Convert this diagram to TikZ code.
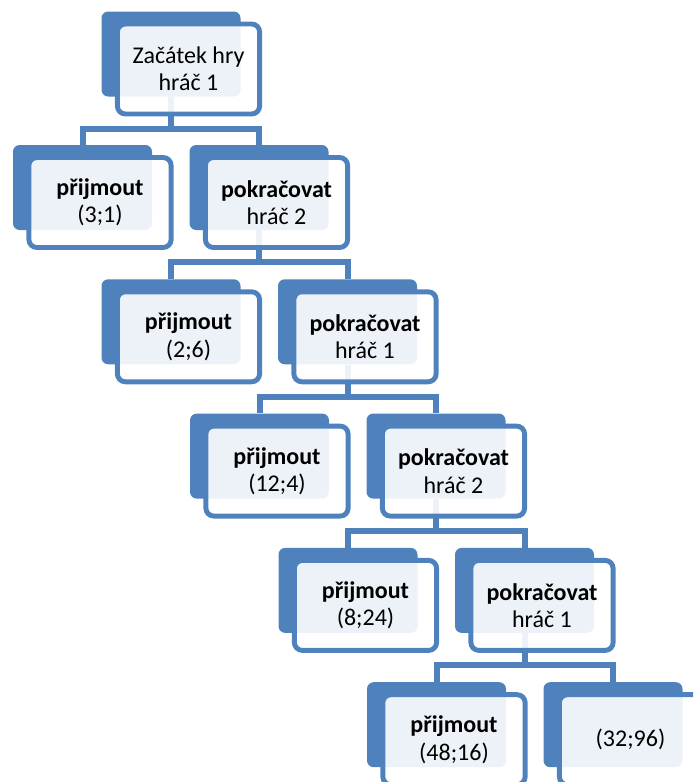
\documentclass[tikz,border=0pt]{standalone}
\usepackage{fontspec}
\setmainfont{Carlito}
\definecolor{gameblue}{HTML}{4F81BD}
\tikzset{
  back/.style={fill=gameblue, rounded corners=5pt, minimum width=104.25pt,
    minimum height=63.75pt, inner sep=0pt},
  front/.style={draw=gameblue, line width=3.7pt, fill=white, fill opacity=0.9,
    text opacity=1, rounded corners=6pt, minimum width=106.7pt,
    minimum height=67.5pt, inner sep=0pt, align=center,
    font=\fontsize{18}{20.5}\selectfont},
  conn/.style={draw=gameblue, line width=4.5pt},
}
\begin{document}
\begin{tikzpicture}[x=0.75pt,y=-0.75pt]
    \clip (0,0) rectangle (693,782);

    % Back boxes
    \node[back] (root) at (171,54) {};
    \foreach \k in {1,...,5} {
        \node[back] (L\k) at ({82.5+88.5*(\k-1)},{187.5+134.3*(\k-1)}) {};
        \node[back] (R\k) at ({259+88.5*(\k-1)},{187.5+134.3*(\k-1)}) {};
    }

    % Connectors
    \draw[conn] (root.south) -- ++(0,32) -| (L1.north);
    \draw[conn] (root.south) -- ++(0,32) -| (R1.north);
    \foreach \k [count=\p] in {2,...,5} {
        \draw[conn] (R\p.south) -- ++(0,32) -| (L\k.north);
        \draw[conn] (R\p.south) -- ++(0,32) -| (R\k.north);
    }

    % Front boxes with text
    \node[front] (root-f) at ([shift={(17.5,15)}]root.center) {Začátek hry\\hráč 1};
    \foreach \k/\pay in {1/{(3;1)}, 2/{(2;6)}, 3/{(12;4)}, 4/{(8;24)}, 5/{(48;16)}}
        \node[front] (L\k-f) at ([shift={(17.5,15)}]L\k.center) {\textbf{přijmout}\\\pay};
    \foreach \k/\pl in {1/2, 2/1, 3/2, 4/1}
        \node[front] (R\k-f) at ([shift={(17.5,15)}]R\k.center) {\textbf{pokračovat}\\hráč \pl};
    \node[front] (R5-f) at ([shift={(17.5,15)}]R5.center) {(32;96)};
\end{tikzpicture}
\end{document}
